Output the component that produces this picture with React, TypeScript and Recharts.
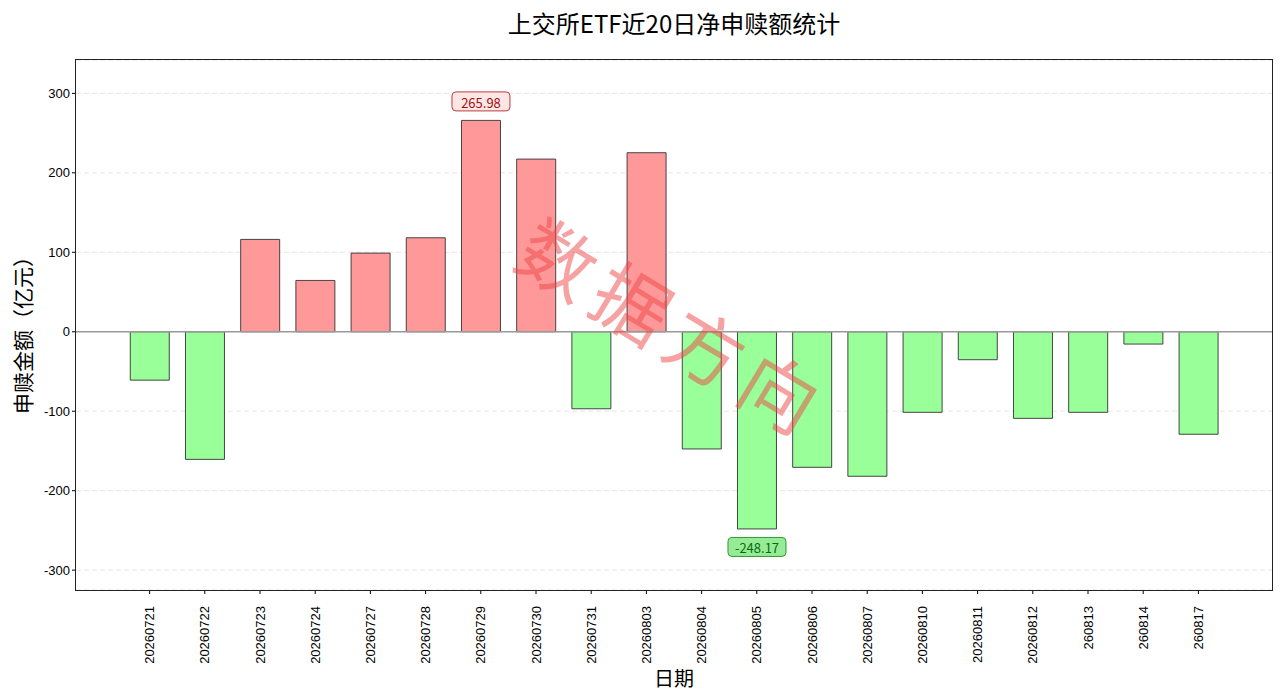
import React from 'react';
import {
  BarChart,
  Bar,
  Cell,
  XAxis,
  YAxis,
  CartesianGrid,
  ReferenceLine,
  LabelList,
} from 'recharts';

const dates = [
  '20260721', '20260722', '20260723', '20260724', '20260727',
  '20260728', '20260729', '20260730', '20260731', '20260803',
  '20260804', '20260805', '20260806', '20260807', '20260810',
  '20260811', '20260812', '260813', '260814', '260817',
];

const netFlow = [
  -60.9, -160.6, 116.2, 64.6, 99.0,
  118.3, 265.98, 217.3, -96.9, 225.3,
  -147.5, -248.17, -170.6, -181.9, -101.4,
  -35.2, -109.0, -101.4, -15.5, -129.0,
];

const yTicks = [-300, -200, -100, 0, 100, 200, 300];

const data = dates.map((date, i) => ({ date, value: netFlow[i] }));

const maxIdx = netFlow.indexOf(Math.max(...netFlow));
const minIdx = netFlow.indexOf(Math.min(...netFlow));

const UP = '#ff9999';
const DOWN = '#99ff99';
const CJK = '"Noto Sans CJK SC", "Noto Sans", sans-serif';
const TICK_FONT = '"Liberation Sans", Arial, sans-serif';

// plot box (matches chart margins + axis sizes below)
const PLOT = { left: 76, top: 60, right: 1272, bottom: 590 };
const FRAME_W = 1.2;

const DateTick = (props: any) => {
  const { x, y, payload } = props;
  const ty = y + 10;
  return (
    <text
      x={x}
      y={ty}
      transform={`rotate(-90, ${x}, ${ty})`}
      textAnchor="end"
      dominantBaseline="central"
      fontSize={13}
      fontFamily={TICK_FONT}
      fill="#000"
    >
      {payload.value}
    </text>
  );
};

const PeakLabel = (props: any) => {
  const { x, y, width, height, value, index } = props;
  if (index !== maxIdx && index !== minIdx) return null;
  const top = Math.min(y, y + height);
  const bottom = Math.max(y, y + height);
  const cx = x + width / 2;
  const positive = value >= 0;
  const text = value.toFixed(2);
  const w = 58;
  const h = 19;
  const cy = positive ? top - 19 : bottom + 18;
  return (
    <g>
      <rect
        x={cx - w / 2}
        y={cy - h / 2}
        width={w}
        height={h}
        rx={4}
        fill={positive ? '#fde6e6' : '#96ec96'}
        stroke={positive ? '#c43a3a' : '#2f9a2f'}
        strokeWidth={1}
      />
      <text
        x={cx}
        y={cy + 1}
        textAnchor="middle"
        dominantBaseline="central"
        fontSize={13}
        fontFamily={CJK}
        fill={positive ? '#a01010' : '#0a6a0a'}
      >
        {text}
      </text>
    </g>
  );
};

export default function App() {
  return (
    <div
      style={{
        position: 'absolute',
        left: 0,
        top: 0,
        width: 1280,
        height: 696,
        background: '#fff',
        overflow: 'hidden',
      }}
    >
      <div
        style={{
          position: 'absolute',
          top: 5,
          left: 0,
          width: 1348,
          textAlign: 'center',
          fontFamily: CJK,
          fontSize: 24,
          color: '#000',
        }}
      >
        上交所ETF近20日净申赎额统计
      </div>
      <BarChart
        width={1280}
        height={696}
        data={data}
        margin={{ top: 60, right: 8, left: 26, bottom: 36 }}
        barCategoryGap="15%"
      >
        <CartesianGrid
          vertical={false}
          horizontal
          stroke="#e6e6e6"
          strokeDasharray="5 3"
        />
        <XAxis
          dataKey="date"
          interval={0}
          padding={{ left: 46, right: 46 }}
          height={70}
          tick={<DateTick />}
          tickSize={4}
          tickLine={{ stroke: '#000' }}
          axisLine={false}
        />
        <YAxis
          domain={[-325, 342]}
          ticks={yTicks}
          width={50}
          tickSize={4}
          tick={{ fontSize: 13, fill: '#000', fontFamily: TICK_FONT }}
          tickLine={{ stroke: '#000' }}
          axisLine={false}
          allowDataOverflow
        />
        <ReferenceLine y={0} stroke="#9a9a9a" strokeWidth={1.3} />
        <Bar dataKey="value" stroke="#333" strokeWidth={0.9} isAnimationActive={false}>
          {data.map((d, i) => (
            <Cell key={`cell-${i}`} fill={d.value >= 0 ? UP : DOWN} />
          ))}
          <LabelList dataKey="value" content={<PeakLabel />} />
        </Bar>
      </BarChart>
      {/* full box frame like matplotlib spines */}
      <div
        style={{
          position: 'absolute',
          boxSizing: 'border-box',
          left: PLOT.left - FRAME_W / 2,
          top: PLOT.top - FRAME_W / 2,
          width: PLOT.right - PLOT.left + FRAME_W,
          height: PLOT.bottom - PLOT.top + FRAME_W,
          border: `${FRAME_W}px solid #222`,
          pointerEvents: 'none',
        }}
      />
      <div
        style={{
          position: 'absolute',
          left: 22,
          top: 330,
          transform: 'translate(-50%, -50%) rotate(-90deg)',
          fontFamily: CJK,
          fontSize: 21,
          whiteSpace: 'nowrap',
          color: '#000',
        }}
      >
        申赎金额（亿元）
      </div>
      <div
        style={{
          position: 'absolute',
          left: 674,
          top: 677,
          transform: 'translate(-50%, -50%)',
          fontFamily: CJK,
          fontSize: 20,
          color: '#000',
        }}
      >
        日期
      </div>
      <div
        style={{
          position: 'absolute',
          left: 675,
          top: 325,
          transform: 'translate(-50%, -50%) rotate(31deg)',
          fontFamily: CJK,
          fontSize: 76,
          letterSpacing: 10,
          whiteSpace: 'nowrap',
          color: 'rgba(238, 70, 70, 0.5)',
          pointerEvents: 'none',
        }}
      >
        数据方向
      </div>
    </div>
  );
}
